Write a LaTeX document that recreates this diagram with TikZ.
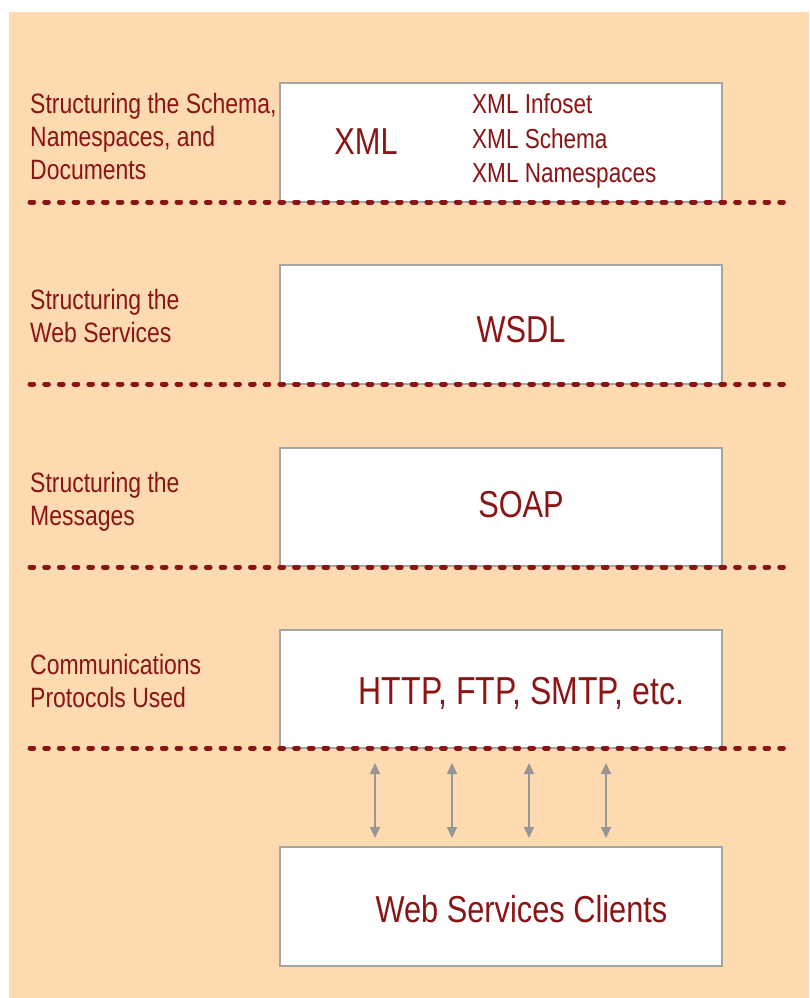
\documentclass[tikz,border=0pt]{standalone}
\usepackage{fontspec}
\setmainfont{Liberation Sans}[FakeStretch=0.82]
\usetikzlibrary{arrows.meta}
\definecolor{peach}{RGB}{253,218,176}
\definecolor{maroon}{RGB}{139,20,20}
\definecolor{boxedge}{RGB}{165,165,165}
\definecolor{linkgray}{RGB}{150,150,150}
\tikzset{
  layerbox/.style={draw=boxedge, line width=1.4pt, fill=white, minimum width=442pt, inner sep=0pt},
  sidelabel/.style={anchor=west, align=left, text=maroon, inner sep=0pt,
    font=\fontsize{28}{33}\selectfont},
  biglabel/.style={text=maroon, inner sep=0pt, font=\fontsize{37.5}{40}\selectfont},
  itemlist/.style={anchor=west, align=left, text=maroon, inner sep=0pt,
    font=\fontsize{27.5}{34.5}\selectfont},
  divider/.style={maroon, line width=5pt, line cap=round, dash pattern=on 3.7pt off 11pt},
  biarrow/.style={linkgray, line width=1.8pt, {Triangle[width=10pt,length=11pt]}-{Triangle[width=10pt,length=11pt]}}
}
\begin{document}
\begin{tikzpicture}[x=1pt, y=-1pt]
\useasboundingbox (0,0) rectangle (809,998);
% page background
\fill[peach] (9,12) rectangle (809,998);

% layer boxes
\node[layerbox, minimum height=119pt] (xml)  at (501,142.5) {};
\node[layerbox, minimum height=119pt] (wsdl) at (501,324.5) {};
\node[layerbox, minimum height=118pt] (soap) at (501,507) {};
\node[layerbox, minimum height=118pt] (http) at (501,689) {};
\node[layerbox, minimum height=119pt] (clients) at (501,906.5) {};

% dividers between the layers
\coordinate (d1a) at (30,202);  \coordinate (d1b) at (785,202);
\coordinate (d2a) at (30,384);  \coordinate (d2b) at (785,384);
\coordinate (d3a) at (30,567);  \coordinate (d3b) at (785,567);
\coordinate (d4a) at (30,748);  \coordinate (d4b) at (785,748);
\draw[divider] (d1a) -- (d1b);
\draw[divider] (d2a) -- (d2b);
\draw[divider] (d3a) -- (d3b);
\draw[divider] (d4a) -- (d4b);

% layer captions on the left
\node[sidelabel] (l1) at (30,136) {Structuring the Schema,\\Namespaces, and\\Documents};
\node[sidelabel] (l2) at (30,315.5) {Structuring the\\Web Services};
\node[sidelabel] (l3) at (30,502) {Structuring the\\Messages};
\node[sidelabel] (l4) at (30,681) {Communications\\Protocols Used};

% box contents
\node[biglabel] (xmlt) at (366,142) {XML};
\node[itemlist] (xmlitems) at (472,141) {XML Infoset\\XML Schema\\XML Namespaces};
\node[biglabel] (wsdlt) at (521,330) {WSDL};
\node[biglabel] (soapt) at (521,505) {SOAP};
\node[biglabel, font=\fontsize{39}{42}\selectfont] (httpt) at (521.5,693) {HTTP, FTP, SMTP, etc.};
\node[biglabel] (clientst) at (521.5,909) {Web Services Clients};

% links between protocols and clients
\foreach \i/\x in {1/375,2/452,3/529,4/606}{
  \coordinate (up\i) at (\x,763);
  \coordinate (dn\i) at (\x,838);
  \draw[biarrow] (up\i) -- (dn\i);
}
\end{tikzpicture}
\end{document}
